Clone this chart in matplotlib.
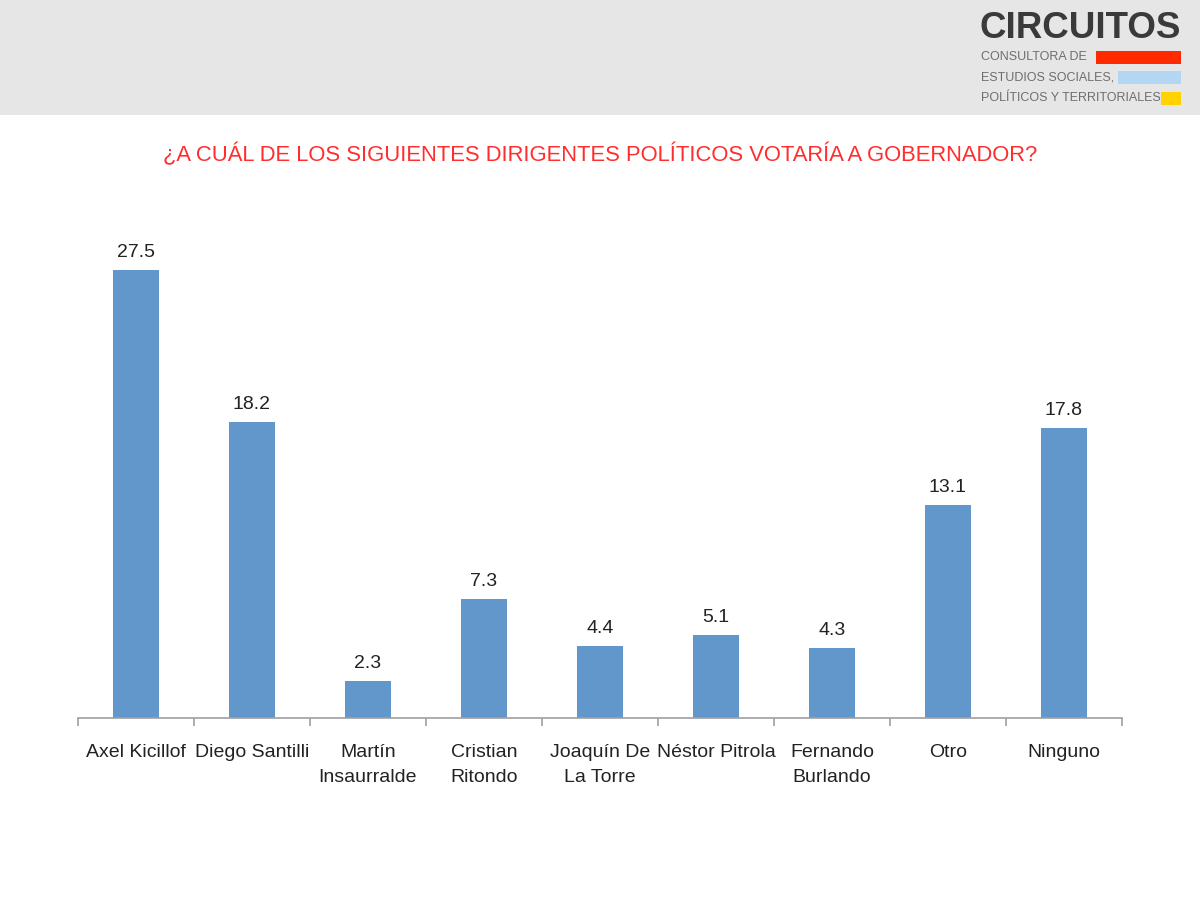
import numpy as np
import matplotlib.pyplot as plt
from matplotlib.patches import Rectangle

plt.rcParams['font.family'] = ['Liberation Sans', 'DejaVu Sans']

candidatos = ['Axel Kicillof', 'Diego Santilli', 'Martín\nInsaurralde', 'Cristian\nRitondo',
              'Joaquín De\nLa Torre', 'Néstor Pitrola', 'Fernando\nBurlando', 'Otro', 'Ninguno']
valores = [27.5, 18.2, 2.3, 7.3, 4.4, 5.1, 4.3, 13.1, 17.8]
titulo = '¿A CUÁL DE LOS SIGUIENTES DIRIGENTES POLÍTICOS VOTARÍA A GOBERNADOR?'

fig = plt.figure(figsize=(12, 9), dpi=100)
fig.patch.set_facecolor('white')

# banda gris de cabecera
fig.add_artist(Rectangle((0, 1 - 115 / 900), 1, 115 / 900, transform=fig.transFigure,
                         facecolor='#e6e6e6', edgecolor='none', zorder=0))

# logo
fig.text(1181 / 1200, 1 - 29 / 900, 'CIRCUITOS', ha='right', va='center', fontsize=26.5,
         fontweight='bold', color='#3a3a3a')
lineas = ['CONSULTORA DE', 'ESTUDIOS SOCIALES,', 'POLÍTICOS Y TERRITORIALES']
ys = [57, 77, 98]
colores = ['#ff2a00', '#b3d7f2', '#ffd200']
x_ini = [1096, 1118, 1161]
for txt, y, c, x0 in zip(lineas, ys, colores, x_ini):
    fig.text(981 / 1200, 1 - y / 900, txt, ha='left', va='center', fontsize=9,
             color='#6e6e6e')
    fig.add_artist(Rectangle((x0 / 1200, 1 - (y + 7) / 900), (1181 - x0) / 1200, 13 / 900,
                             transform=fig.transFigure, facecolor=c, edgecolor='none'))

fig.text(0.5, 1 - 155 / 900, titulo, ha='center', va='center', fontsize=15.8, color='#ff2d2d')

ax = fig.add_axes([78 / 1200, 1 - 718 / 900, 1044 / 1200, (30 * 448 / 27.5) / 900])
x = np.arange(len(candidatos))
ax.bar(x, valores, width=0.4, color='#6197cb')
for xi, v in zip(x, valores):
    ax.text(xi, v + 0.55, f'{v:.1f}', ha='center', va='bottom', fontsize=14, color='#222222')

ax.set_xlim(-0.5, len(candidatos) - 0.5)
ax.set_ylim(0, 30)
for s in ['top', 'right', 'left']:
    ax.spines[s].set_visible(False)
ax.spines['bottom'].set_color('#a0a0a0')
ax.spines['bottom'].set_linewidth(1.2)
ax.set_yticks([])
ax.set_xticks(x)
ax.set_xticklabels(candidatos, fontsize=14, color='#222222', linespacing=1.55)
ax.tick_params(axis='x', which='major', length=0, pad=19)
ax.set_xticks(np.arange(-0.5, len(candidatos), 1), minor=True)
ax.tick_params(axis='x', which='minor', length=6, color='#a0a0a0', width=1.2)

fig.savefig('out.png', dpi=100)
